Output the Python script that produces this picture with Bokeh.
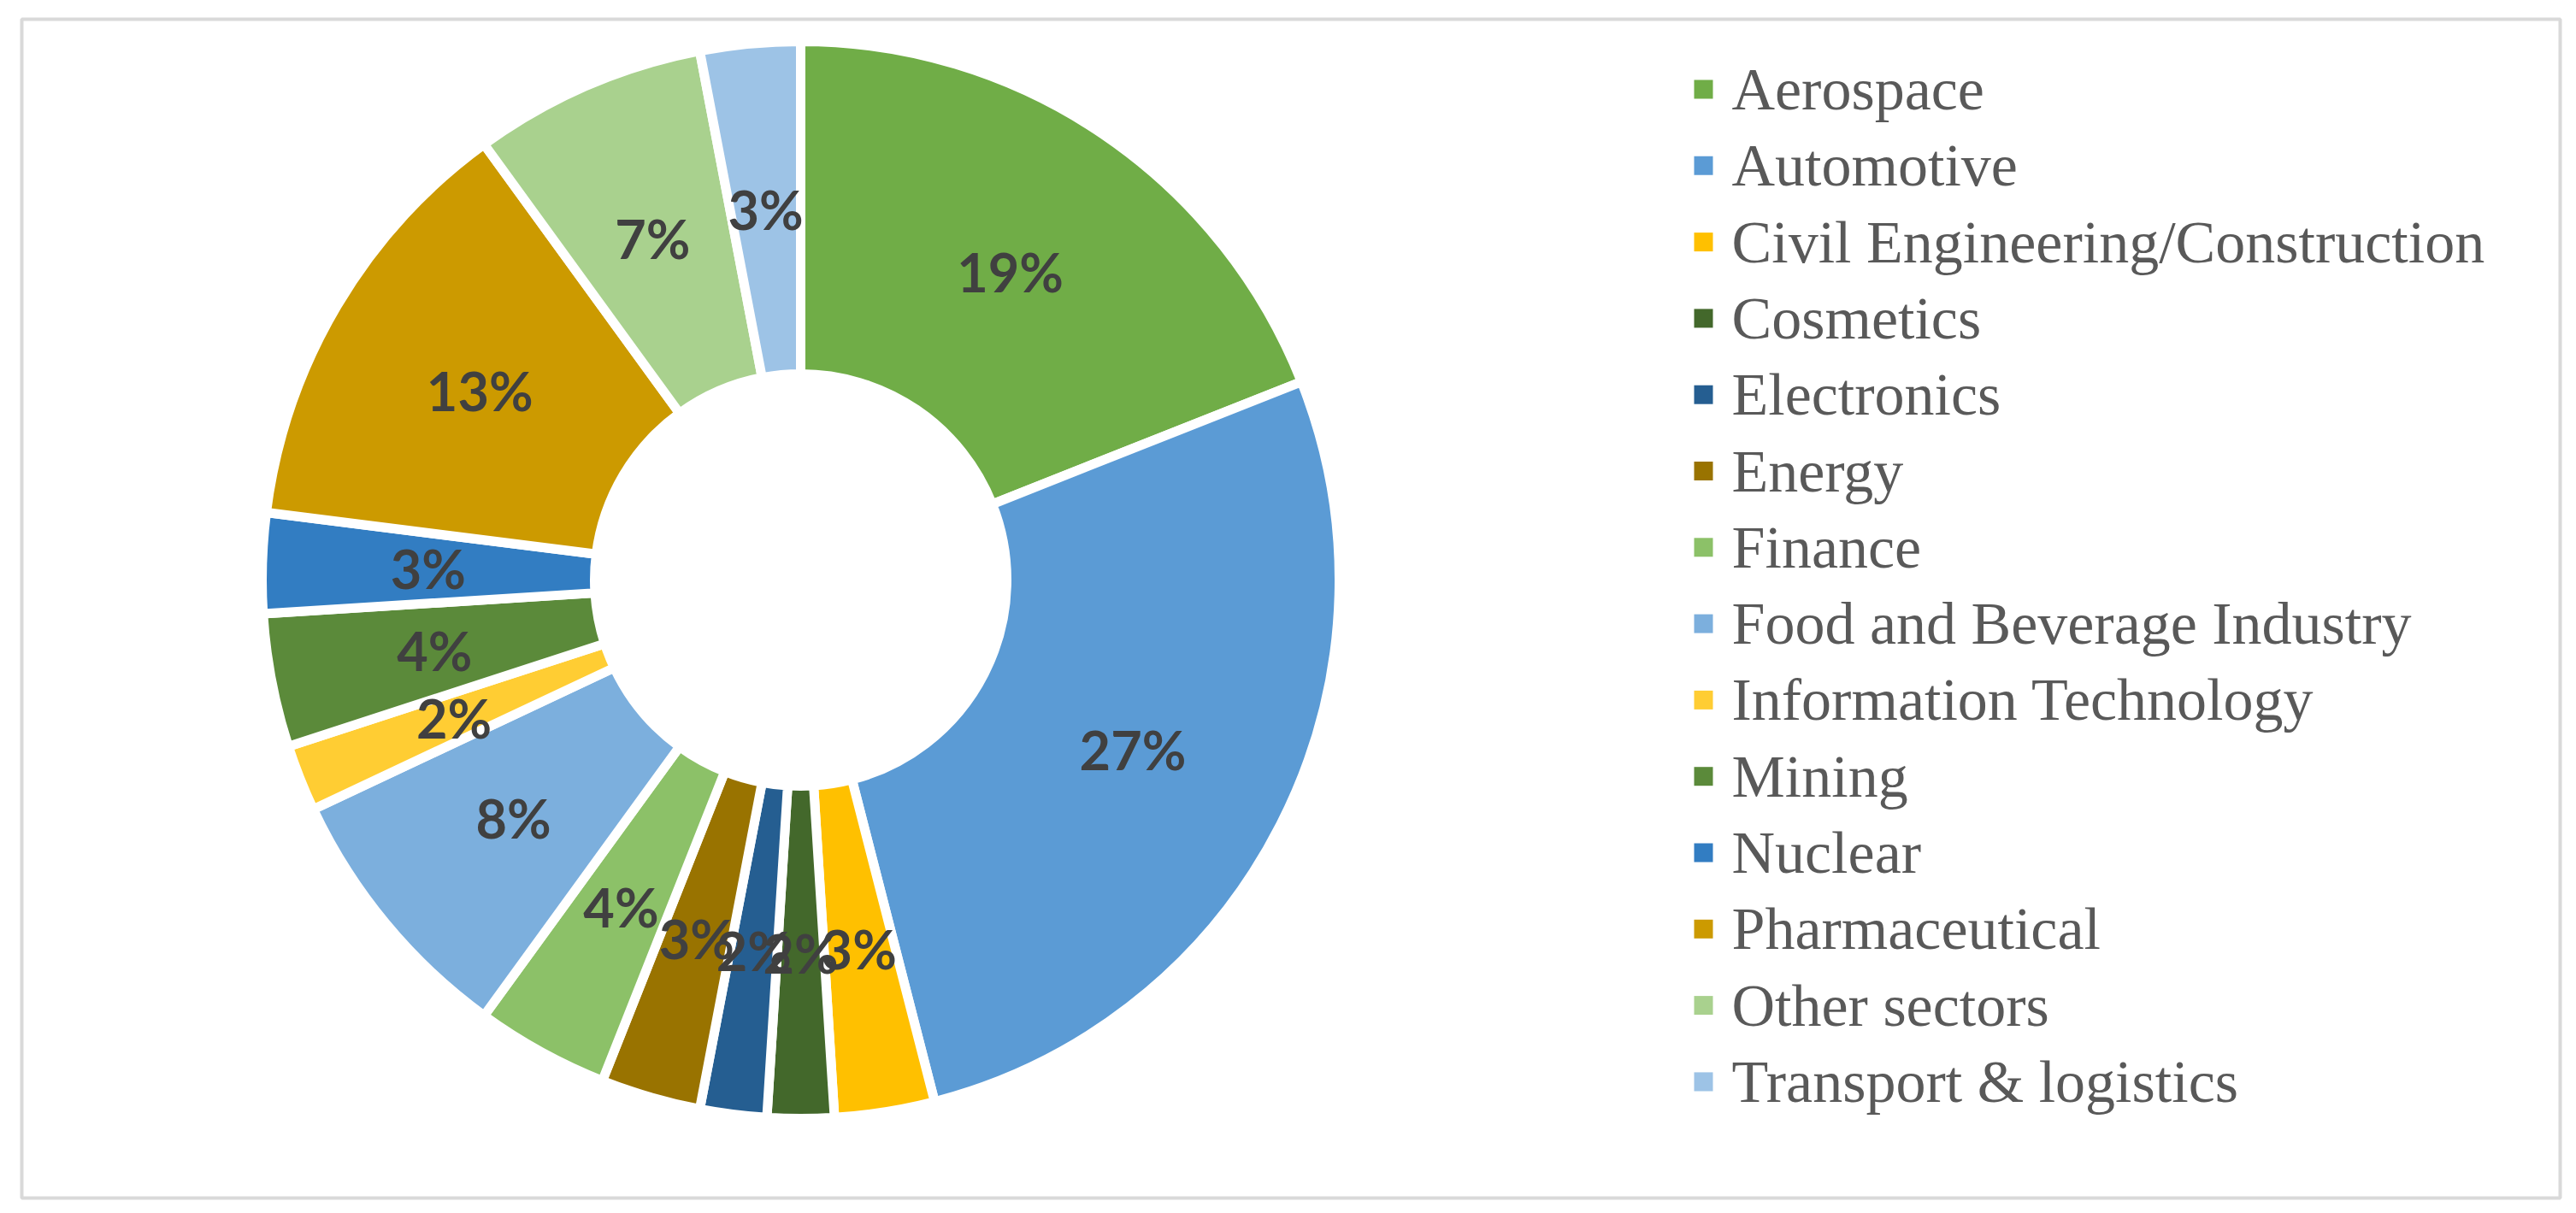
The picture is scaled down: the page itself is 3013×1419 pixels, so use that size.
import numpy as np
from bokeh.plotting import figure
from bokeh.models import Range1d, ColumnDataSource
from bokeh.core.properties import value
from bokeh.embed import file_html
from bokeh.resources import INLINE

# Share of respondents by sector (percent)
sectors = [
    "Aerospace", "Automotive", "Civil Engineering/Construction", "Cosmetics",
    "Electronics", "Energy", "Finance", "Food and Beverage Industry",
    "Information Technology", "Mining", "Nuclear", "Pharmaceutical",
    "Other sectors", "Transport & logistics",
]
shares = [19, 27, 3, 2, 2, 3, 4, 8, 2, 4, 3, 13, 7, 3]
colors = [
    "#70AD47", "#5B9BD5", "#FFC000", "#43682B", "#255E91", "#997300", "#8CC168",
    "#7CAFDD", "#FFCD33", "#5B8A3A", "#327DC2", "#CC9A00", "#A9D18E", "#9DC3E6",
]

W, H = 3013, 1419
# frame inset so the outline forms the light grey border
left, right, top, bottom = 25, 2994, 22, 1401

p = figure(
    width=W, height=H, output_backend="svg", toolbar_location=None,
    x_range=Range1d(left, right), y_range=Range1d(H - bottom, H - top),
    min_border_left=left, min_border_right=W - right,
    min_border_top=top, min_border_bottom=H - bottom,
)
p.axis.visible = False
p.grid.visible = False
p.outline_line_color = "#D9D9D9"
p.outline_line_width = 4
p.background_fill_color = "white"
p.border_fill_color = "white"

# donut geometry (data units == pixels)
cx, cy = 936, H - 678
r_out, r_in = 630, 241
r_lab = 436

vals = np.array(shares, dtype=float)
frac = vals / vals.sum()
cum_end = np.cumsum(frac)
cum_start = cum_end - frac
start = np.pi / 2 - 2 * np.pi * cum_start
end = np.pi / 2 - 2 * np.pi * cum_end
mid = (start + end) / 2

src = ColumnDataSource(dict(
    start=start, end=end, color=colors, sector=sectors,
    lx=cx + r_lab * np.cos(mid), ly=cy + r_lab * np.sin(mid),
    label=[f"{v:.0f}%" for v in vals],
))

p.annular_wedge(x=cx, y=cy, inner_radius=r_in, outer_radius=r_out,
                start_angle="start", end_angle="end", direction="clock",
                fill_color="color", line_color="white", line_width=11,
                source=src)

p.text(x="lx", y="ly", text="label", source=src,
       text_font=value("Lato"), text_font_style="bold",
       text_font_size="63px", text_color="#404040",
       text_align="center", text_baseline="middle")

# legend column on the right
leg_x_sq = 1992
leg_x_txt = 2025
leg_y0 = 104
leg_step = 89.3
ly_leg = [H - (leg_y0 + i * leg_step) for i in range(len(sectors))]
leg = ColumnDataSource(dict(
    xs=[leg_x_sq] * len(sectors), xt=[leg_x_txt] * len(sectors),
    y=ly_leg, color=colors, sector=sectors,
))
p.scatter(x="xs", y="y", marker="square", size=22, fill_color="color",
          line_color=None, source=leg)
p.text(x="xt", y="y", text="sector", source=leg,
       text_font=value("Liberation Serif"), text_font_size="70px",
       text_color="#595959", text_align="left", text_baseline="middle")

open("out.html", "w").write(file_html(p, INLINE))
